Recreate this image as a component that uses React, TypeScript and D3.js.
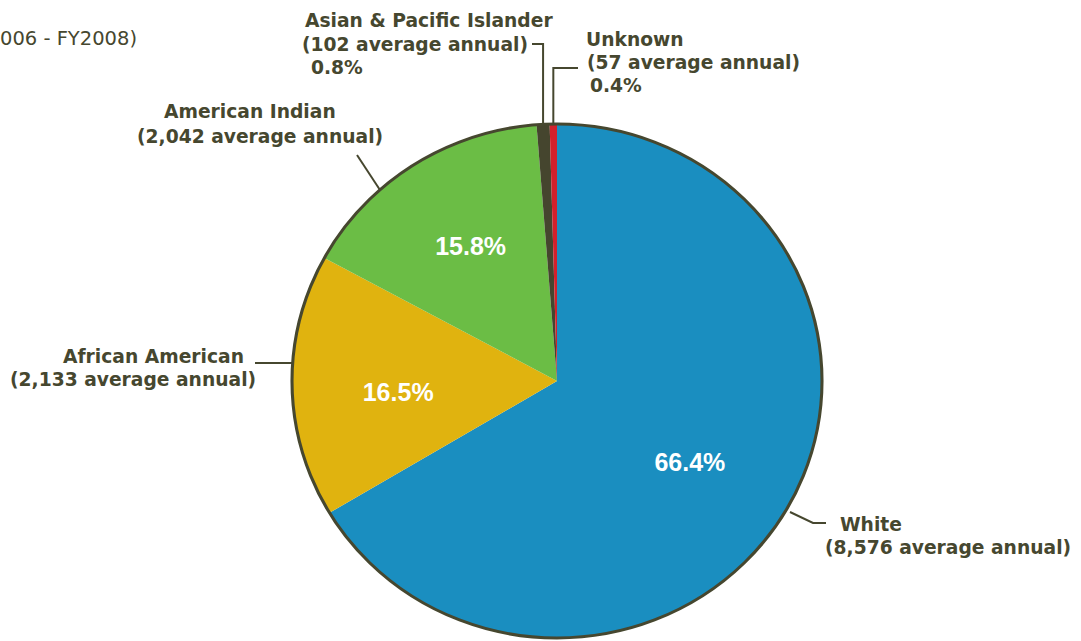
import React from "react";
import * as d3 from "d3";

const categories = ["White", "African American", "American Indian", "Asian & Pacific Islander", "Unknown"];
const averageAnnual = [8576, 2133, 2042, 102, 57];
const percentLabels = ["66.4%", "16.5%", "15.8%", "0.8%", "0.4%"];
const sliceColors = ["#1a8ec0", "#e0b30f", "#6bbd45", "#45452e", "#d3202b"];
const titleText = "(FY2006 - FY2008)";

const W = 1081;
const H = 641;
const CX = 557;
const CY = 381;
const RX = 265;
const RY = 257;
const TEXT = "#46472f";
const LABEL_FONT = "'DejaVu Sans', sans-serif";

export default function App() {
  const pie = d3.pie<number>().sort(null).value((d) => d).startAngle(0).endAngle(2 * Math.PI);
  const arcs = pie(averageAnnual);
  const arc = d3.arc<d3.PieArcDatum<number>>().innerRadius(0).outerRadius(RY);
  const labelArc = d3.arc<d3.PieArcDatum<number>>().innerRadius(156).outerRadius(156);
  const sx = RX / RY;
  const insideNudge = [[-7, 4], [2, 8], [1, -4]];

  const edgeX = (i: number) => {
    const a = (arcs[i].startAngle + arcs[i].endAngle) / 2;
    return CX + Math.sin(a) * RX;
  };
  const topY = CY - RY;

  // outside label layout
  const outside = [
    { i: 0, lines: [{ t: categories[0], x: 840, y: 531 }, { t: `(${d3.format(",")(averageAnnual[0])} average annual)`, x: 825, y: 554 }],
      leader: [[790, 512], [813, 523], [826, 523]] },
    { i: 1, lines: [{ t: categories[1], x: 63, y: 363 }, { t: `(${d3.format(",")(averageAnnual[1])} average annual)`, x: 10, y: 386 }],
      leader: [[255, 363], [293, 363]] },
    { i: 2, lines: [{ t: categories[2], x: 164, y: 118 }, { t: `(${d3.format(",")(averageAnnual[2])} average annual)`, x: 137, y: 143 }],
      leader: [[357, 155], [380, 190]] },
    { i: 3, lines: [{ t: categories[3], x: 305, y: 27 }, { t: `(${d3.format(",")(averageAnnual[3])} average annual)`, x: 302, y: 51 }, { t: percentLabels[3], x: 311, y: 74 }],
      leader: [[532, 44], [edgeX(3), 44], [edgeX(3), topY]] },
    { i: 4, lines: [{ t: categories[4], x: 586, y: 46 }, { t: `(${d3.format(",")(averageAnnual[4])} average annual)`, x: 587, y: 69 }, { t: percentLabels[4], x: 590, y: 92 }],
      leader: [[578, 68], [edgeX(4), 68], [edgeX(4), topY]] },
  ];

  const line = d3.line();

  return (
    <svg width={W} height={H} style={{ position: "absolute", left: 0, top: 0, display: "block", background: "#fff" }}>
      <text x={137} y={45} textAnchor="end" fill={TEXT} fontFamily={LABEL_FONT} fontSize={19.5}>{titleText}</text>

      <g transform={`translate(${CX},${CY}) scale(${sx},1)`}>
        {arcs.map((a, i) => (
          <path key={i} d={arc(a) || ""} fill={sliceColors[i]} />
        ))}
        <circle r={RY} fill="none" stroke={TEXT} strokeWidth={3} />
      </g>

      {arcs.slice(0, 3).map((a, i) => {
        const [x, y] = labelArc.centroid(a);
        return (
          <text key={i} x={CX + x * sx + insideNudge[i][0]} y={CY + y + insideNudge[i][1]} dy="0.36em" textAnchor="middle" fill="#fff"
            fontFamily="'Liberation Sans', Arial, sans-serif" fontWeight="bold" fontSize={25}>
            {percentLabels[i]}
          </text>
        );
      })}

      {outside.map((o) => (
        <g key={o.i}>
          <path d={line(o.leader as [number, number][]) || ""} fill="none" stroke={TEXT} strokeWidth={2} />
          {o.lines.map((l, k) => (
            <text key={k} x={l.x} y={l.y} fill={TEXT} fontFamily={LABEL_FONT} fontWeight="bold" fontSize={18.7}>
              {l.t}
            </text>
          ))}
        </g>
      ))}
    </svg>
  );
}
